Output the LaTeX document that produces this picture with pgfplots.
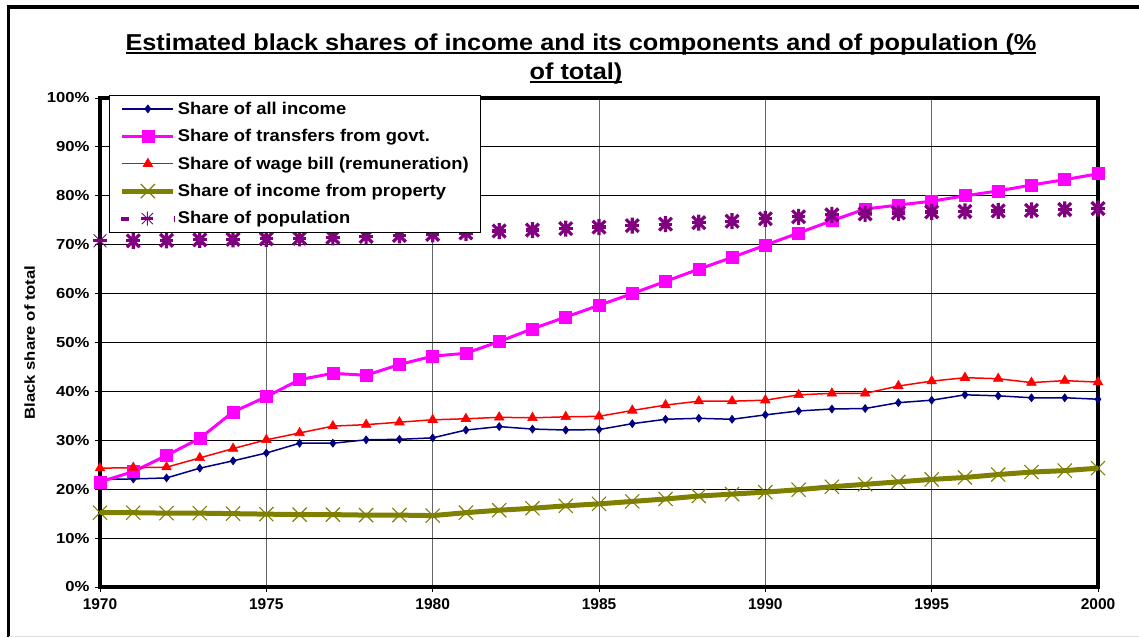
\documentclass[border=0pt]{standalone}
\usepackage{fontspec}
\setmainfont{Liberation Sans}
\usepackage{graphicx}
\usepackage{pgfplots}
\usepackage{pgfplotstable}
\pgfplotsset{compat=1.18}

\definecolor{xnavy}{HTML}{000080}
\definecolor{xmag}{HTML}{FF00FF}
\definecolor{xred}{HTML}{FF0000}
\definecolor{xolive}{HTML}{808000}
\definecolor{xpurple}{HTML}{800080}

\pgfdeclareplotmark{xlstar}{%
  \pgfpathmoveto{\pgfqpoint{0pt}{\pgfplotmarksize}}%
  \pgfpathlineto{\pgfqpoint{0pt}{-\pgfplotmarksize}}%
  \pgfpathmoveto{\pgfqpoint{-0.8\pgfplotmarksize}{0.8\pgfplotmarksize}}%
  \pgfpathlineto{\pgfqpoint{0.8\pgfplotmarksize}{-0.8\pgfplotmarksize}}%
  \pgfpathmoveto{\pgfqpoint{-0.8\pgfplotmarksize}{-0.8\pgfplotmarksize}}%
  \pgfpathlineto{\pgfqpoint{0.8\pgfplotmarksize}{0.8\pgfplotmarksize}}%
  \pgfusepathqstroke
  \pgfsetlinewidth{3.2pt}%
  \pgfsetbuttcap
  \pgfpathmoveto{\pgfqpoint{-0.85\pgfplotmarksize}{0pt}}%
  \pgfpathlineto{\pgfqpoint{0.85\pgfplotmarksize}{0pt}}%
  \pgfusepathqstroke
}

\newcommand\ULine[1]{\setbox0\hbox{#1}\rlap{\rule[-3pt]{\wd0}{1.8pt}}\box0}
\newcommand\HS[1]{\scalebox{1.08}[1]{#1}}
\newcommand\YS[1]{\scalebox{1.15}[1]{#1}}

\pgfplotstableread{
year allinc transf wage prop pop
1970 22.0 21.5 24.3 15.2 70.8
1971 22.1 23.6 24.4 15.2 70.8
1972 22.3 26.9 24.5 15.1 70.9
1973 24.3 30.4 26.4 15.1 71.0
1974 25.8 35.8 28.3 15.0 71.1
1975 27.4 38.9 30.1 14.9 71.2
1976 29.4 42.4 31.5 14.8 71.3
1977 29.4 43.7 32.9 14.8 71.5
1978 30.1 43.3 33.2 14.7 71.7
1979 30.2 45.5 33.7 14.7 71.9
1980 30.5 47.2 34.2 14.6 72.1
1981 32.1 47.8 34.4 15.2 72.4
1982 32.8 50.2 34.7 15.7 72.8
1983 32.3 52.8 34.6 16.1 73.0
1984 32.1 55.2 34.8 16.6 73.3
1985 32.2 57.6 34.9 17.0 73.6
1986 33.4 60.0 36.1 17.5 73.9
1987 34.3 62.5 37.2 18.0 74.2
1988 34.5 65.0 38.0 18.6 74.5
1989 34.3 67.4 38.0 19.0 74.8
1990 35.2 69.9 38.2 19.4 75.3
1991 36.0 72.4 39.3 19.9 75.7
1992 36.4 74.9 39.6 20.5 76.1
1993 36.5 77.3 39.6 21.0 76.3
1994 37.7 78.1 41.1 21.5 76.5
1995 38.2 78.9 42.1 22.0 76.7
1996 39.3 80.0 42.8 22.4 76.8
1997 39.1 81.0 42.6 23.0 76.9
1998 38.7 82.2 41.8 23.5 77.0
1999 38.7 83.3 42.2 23.8 77.2
2000 38.4 84.5 41.9 24.3 77.4
}\datatable

\begin{document}
\begin{tikzpicture}[x=1pt,y=1pt]
\useasboundingbox (0,0) rectangle (1139,637);
\fill[white] (0,0) rectangle (1139,637);
% outer chart frame
\draw[black, line width=3.5pt] (8.5,0) -- (8.5,630) -- (1139,630);
\draw[gray!25, line width=1pt] (8.5,1) -- (1139,1);
% title
\node[anchor=base, font=\fontsize{23}{27}\selectfont\bfseries] at (581,586)
  {\scalebox{1.1}[1]{\ULine{Estimated black shares of income and its components and of population (\%}}};
\node[anchor=base, font=\fontsize{23}{27}\selectfont\bfseries] at (576,557)
  {\scalebox{1.1}[1]{\ULine{of total)}}};
\begin{axis}[
  at={(100pt,50pt)}, anchor=south west,
  scale only axis, width=998pt, height=489pt,
  xmin=1970, xmax=2000, ymin=0, ymax=100,
  clip=false,
  xtick={1970,1975,1980,1985,1990,1995,2000},
  xticklabels={1970,1975,1980,1985,1990,1995,2000},
  ytick={0,10,20,30,40,50,60,70,80,90,100},
  yticklabels={\YS{0\%},\YS{10\%},\YS{20\%},\YS{30\%},\YS{40\%},\YS{50\%},\YS{60\%},\YS{70\%},\YS{80\%},\YS{90\%},\YS{100\%}},
  xtick pos=bottom, ytick pos=left,
  tick align=outside, major tick length=5pt,
  tick style={black, line width=0.8pt},
  xmajorgrids, ymajorgrids,
  x grid style={gray!80!black, line width=0.8pt},
  y grid style={black, line width=0.8pt},
  axis line style={black, line width=3.5pt},
  xticklabel style={font=\fontsize{15.5}{18}\selectfont\bfseries, yshift=-3pt},
  yticklabel style={font=\fontsize{14.5}{16}\selectfont\bfseries, xshift=-2pt},
  ylabel={\YS{Black share of total}},
  ylabel style={font=\fontsize{14.5}{17}\selectfont\bfseries, at={(axis description cs:-0.0705,0.5)}, anchor=center},
  legend cell align=left,
  legend style={at={(rel axis cs:0.009,1.006)}, anchor=north west,
    draw=black, line width=0.8pt, fill=white,
    font=\fontsize{17}{20}\selectfont\bfseries,
    row sep=9.6pt, inner ysep=4.5pt, inner xsep=10pt},
  legend image code/.code={\draw[mark repeat=2, mark phase=2] plot coordinates {(0pt,0pt) (25.5pt,0pt) (51pt,0pt)};},
]
\addplot[xnavy, line width=1.5pt, mark=diamond*, mark size=4pt,
  mark options={fill=xnavy, line width=0.6pt}] table[x=year, y=allinc] {\datatable};
\addlegendentry{\HS{Share of all income}}
\addplot[xmag, line width=3pt, mark=square*, mark size=6pt,
  mark options={fill=xmag, line width=0.6pt}] table[x=year, y=transf] {\datatable};
\addlegendentry{\HS{Share of transfers from govt.}}
\addplot[xred, line width=1.5pt, mark=triangle*, mark size=5.5pt,
  mark options={fill=xred, line width=0.6pt}] table[x=year, y=wage] {\datatable};
\addlegendentry{\HS{Share of wage bill (remuneration)}}
\addplot[xolive, line width=5pt, mark=x, mark size=10pt,
  mark options={line width=1.1pt}] table[x=year, y=prop] {\datatable};
\addlegendentry{\HS{Share of income from property}}
\addplot[xpurple, only marks, mark=xlstar, mark size=8pt,
  mark options={line width=0.9pt},
  legend image code/.code={
    \draw[xpurple, line width=4pt] (-1pt,0pt) -- (7pt,0pt);
    \draw[xpurple, only marks, mark=xlstar, mark size=7pt, mark options={line width=0.9pt}] plot coordinates {(25pt,0pt)};
    \draw[xpurple, line width=1pt] (52pt,-3pt) -- (52pt,3pt);
  }] table[x=year, y=pop] {\datatable};
\addlegendentry{\HS{Share of population}}
\end{axis}
\end{tikzpicture}
\end{document}
